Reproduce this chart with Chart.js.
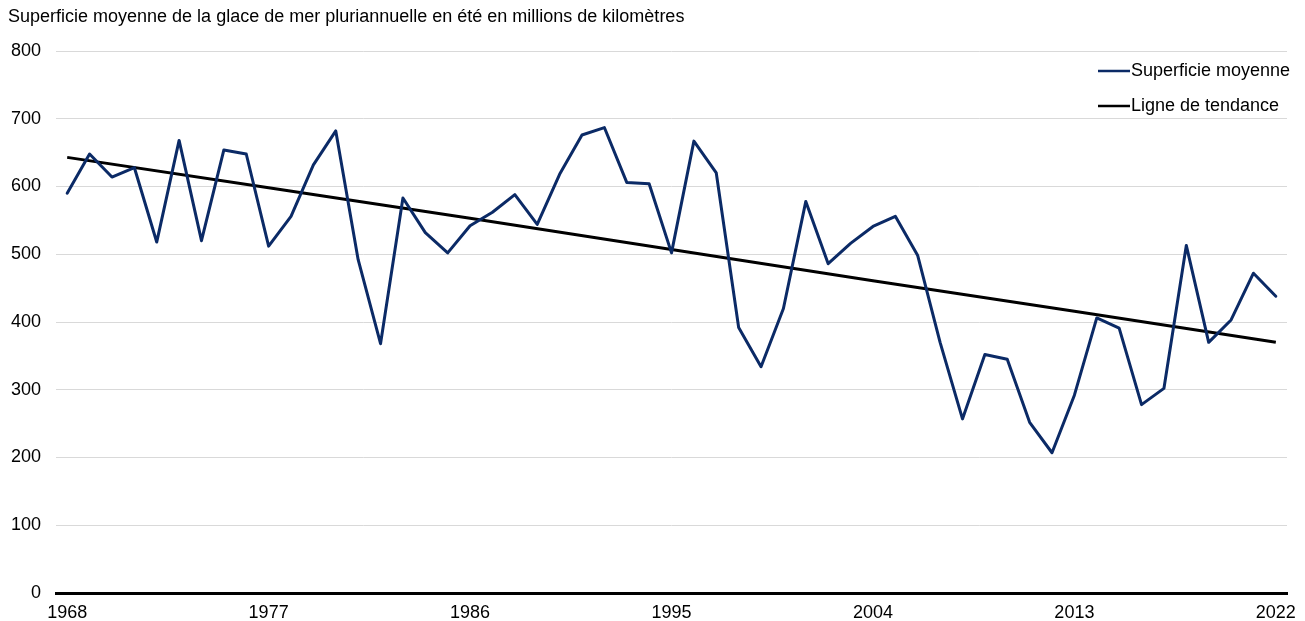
<!DOCTYPE html>
<html>
<head>
<meta charset="utf-8">
<script src="https://cdn.jsdelivr.net/npm/chart.js@4/dist/chart.umd.min.js"></script>
<style>
  html, body { margin: 0; padding: 0; background: #fff; }
  #wrap { position: relative; width: 1305px; height: 621px; }
</style>
</head>
<body>
<div id="wrap"><canvas id="c" width="1305" height="621"></canvas></div>
<script>
const titleText = "Superficie moyenne de la glace de mer pluriannuelle en été en millions de kilomètres";
const years = [];
for (let y = 1968; y <= 2022; y++) years.push(String(y));
const tickYears = ["1968", "1977", "1986", "1995", "2004", "2013", "2022"];

const seriesLabel = "Superficie moyenne";
const seriesValues = [
  590, 648, 614, 628, 518, 668, 520, 654, 648, 512,
  556, 632, 682, 492, 368, 583, 532, 502, 542, 562,
  588, 544, 618, 676, 687, 606, 604, 502, 667, 620,
  392, 334, 420, 578, 486, 516, 541, 556, 498, 370,
  257, 352, 345, 252, 207, 292, 406, 391, 278, 302,
  513, 370, 403, 472, 438
];

const trendLabel = "Ligne de tendance";
const trendByYear = { "1968": 643, "1977": 598, "1986": 553, "1995": 507, "2004": 461, "2013": 416, "2022": 370 };
const trendValues = years.map(y => (y in trendByYear ? trendByYear[y] : null));

const FONT = "'Liberation Sans', Arial, sans-serif";

const titlePlugin = {
  id: 'topTitle',
  afterDraw(chart) {
    const ctx = chart.ctx;
    ctx.save();
    ctx.font = "18px " + FONT;
    ctx.fillStyle = "#000";
    ctx.textBaseline = "middle";
    ctx.textAlign = "left";
    ctx.fillText(titleText, 8, 17);
    ctx.restore();
  }
};

const legendPlugin = {
  id: 'stackLegend',
  afterDraw(chart) {
    const ctx = chart.ctx;
    ctx.save();
    ctx.font = "18px " + FONT;
    ctx.textBaseline = "middle";
    ctx.textAlign = "left";
    const x0 = 1098, x1 = 1130, tx = 1131;
    const ys = [71, 106];
    chart.data.datasets.forEach((ds, i) => {
      ctx.strokeStyle = ds.borderColor;
      ctx.lineWidth = 2.5;
      ctx.beginPath();
      ctx.moveTo(x0, ys[i]);
      ctx.lineTo(x1, ys[i]);
      ctx.stroke();
      ctx.fillStyle = "#000";
      ctx.fillText(ds.label, tx, ys[i]);
    });
    ctx.restore();
  }
};

new Chart(document.getElementById('c'), {
  type: 'line',
  data: {
    labels: years,
    datasets: [
      {
        label: seriesLabel,
        data: seriesValues,
        borderColor: '#0b2a66',
        borderWidth: 3,
        borderJoinStyle: 'round',
        borderCapStyle: 'round',
        pointRadius: 0,
        tension: 0,
        fill: false
      },
      {
        label: trendLabel,
        data: trendValues,
        spanGaps: true,
        borderColor: '#000000',
        borderWidth: 3,
        borderJoinStyle: 'round',
        pointRadius: 0,
        tension: 0,
        fill: false
      }
    ]
  },
  options: {
    responsive: false,
    animation: false,
    devicePixelRatio: 1,
    layout: { padding: { top: 51, left: 0, right: 16, bottom: 0 } },
    plugins: {
      legend: { display: false },
      title: { display: false },
      tooltip: { enabled: false }
    },
    scales: {
      x: {
        offset: true,
        grid: { display: false, drawTicks: false },
        border: { display: true, color: '#000', width: 3 },
        ticks: {
          autoSkip: false,
          maxRotation: 0,
          minRotation: 0,
          padding: 9,
          color: '#000',
          font: { family: FONT, size: 18 },
          callback: function (val, idx) {
            const lab = this.getLabelForValue(val);
            return tickYears.includes(lab) ? lab : null;
          }
        },
        afterFit(scale) { scale.height = 28; }
      },
      y: {
        min: 0,
        max: 800,
        grid: { color: '#d9d9d9', lineWidth: 1, drawTicks: false },
        border: { display: false },
        ticks: {
          stepSize: 100,
          padding: 15,
          color: '#000',
          font: { family: FONT, size: 18 }
        },
        afterFit(scale) { scale.width = 56; }
      }
    }
  },
  plugins: [titlePlugin, legendPlugin]
});
</script>
</body>
</html>
